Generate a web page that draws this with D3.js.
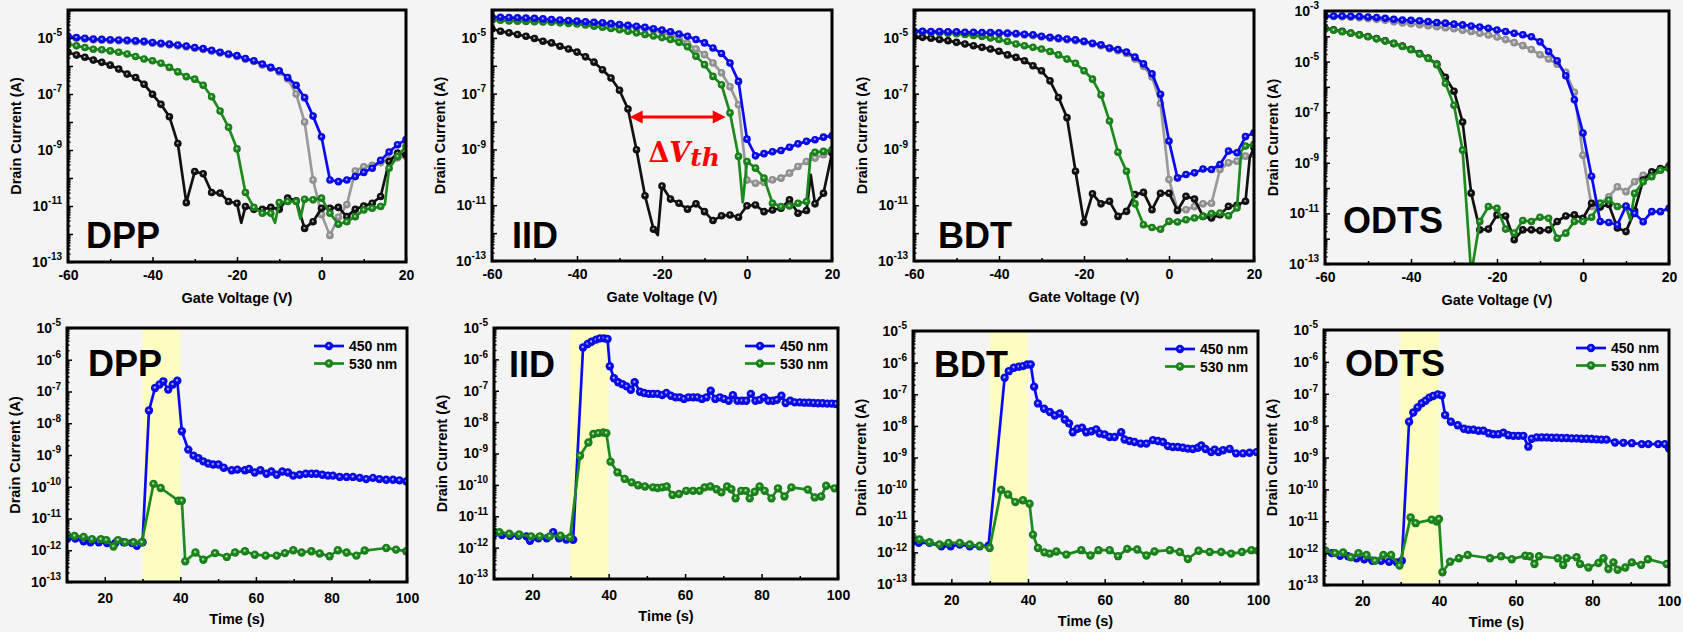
<!DOCTYPE html>
<html>
<head>
<meta charset="utf-8">
<script src="https://cdn.jsdelivr.net/npm/d3@7/dist/d3.min.js"></script>
<style>
  html, body { margin: 0; padding: 0; background: #f4f4f4; }
  svg { display: block; font-family: "Liberation Sans", Arial, sans-serif; font-weight: bold; }
</style>
</head>
<body>
<svg id="fig" width="1683" height="632"></svg>
<script>
// ---------- Transfer curves: log10 of drain current (A) vs gate voltage (V) ----------
const gateVoltage = [-60,-58,-56,-54,-52,-50,-48,-46,-44,-42,-40,-38,-36,-34,-32,-30,-28,-26,-24,-22,
                     -20,-18,-16,-14,-12,-10,-8,-6,-4,-2,0,2,4,6,8,10,12,14,16,18,20];

const dppGray  = [-4.97,-5.01,-5.04,-5.07,-5.08,-5.09,-5.10,-5.11,-5.13,-5.15,-5.19,-5.22,-5.25,-5.28,-5.32,-5.37,-5.41,-5.47,-5.54,-5.60,
                  -5.66,-5.76,-5.84,-5.96,-6.08,-6.21,-6.46,-7.00,-8.00,-10.07,-11.30,-12.05,-11.40,-10.95,-9.75,-9.60,-9.55,-9.45,-9.35,-9.28,-9.22];
const dppBlack = [-5.51,-5.61,-5.69,-5.79,-5.87,-5.97,-6.11,-6.29,-6.41,-6.65,-7.01,-7.37,-7.81,-8.77,-10.88,-9.77,-9.85,-10.52,-10.54,-10.84,
                  -10.90,-11.02,-11.12,-11.12,-11.05,-11.12,-10.72,-10.81,-11.80,-11.56,-11.08,-11.08,-11.05,-11.38,-11.12,-11.00,-10.90,-10.66,-9.41,-9.11,-9.17];
const dppGreen = [-5.22,-5.28,-5.34,-5.40,-5.42,-5.46,-5.51,-5.57,-5.66,-5.75,-5.81,-5.90,-6.05,-6.21,-6.38,-6.47,-6.69,-7.10,-7.61,-8.19,
                  -8.96,-10.52,-11.05,-11.26,-11.26,-10.88,-10.84,-10.84,-10.76,-10.78,-10.72,-11.26,-11.65,-11.56,-11.38,-11.14,-11.08,-11.02,-9.65,-9.23,-8.87];
const dppBlue  = [-4.94,-4.98,-5.01,-5.04,-5.05,-5.06,-5.07,-5.08,-5.10,-5.12,-5.16,-5.19,-5.22,-5.25,-5.29,-5.34,-5.38,-5.44,-5.51,-5.57,
                  -5.63,-5.73,-5.81,-5.93,-6.05,-6.17,-6.41,-6.69,-7.13,-7.79,-8.53,-10.07,-10.13,-10.07,-9.95,-9.80,-9.65,-9.37,-9.07,-8.81,-8.63];
// readings taken between the marked sweep points
const dppBlackExtra = [[-19,-11.60]];
const dppGreenExtra = [[-11,-11.60],[-5,-11.45],[15,-10.95]];

const iidGray  = [-4.30,-4.31,-4.32,-4.33,-4.34,-4.35,-4.37,-4.39,-4.41,-4.43,-4.45,-4.47,-4.49,-4.51,-4.54,-4.57,-4.60,-4.63,-4.67,-4.72,
                  -4.80,-4.90,-5.02,-5.20,-5.40,-5.60,-5.90,-6.25,-6.75,-7.40,-10.10,-10.21,-10.18,-10.09,-10.03,-9.85,-9.61,-9.43,-9.31,-9.19,-9.07];
const iidBlack = [-4.68,-4.76,-4.82,-4.88,-4.94,-5.02,-5.12,-5.18,-5.30,-5.40,-5.51,-5.68,-5.87,-6.14,-6.44,-6.88,-7.55,-9.01,-10.66,-11.86,
                  -10.31,-10.78,-10.93,-11.14,-10.95,-11.23,-11.55,-11.38,-11.35,-11.43,-11.02,-10.99,-11.23,-11.17,-11.11,-10.81,-11.29,-11.19,-10.95,-10.57,-9.13];
const iidGreen = [-4.37,-4.37,-4.39,-4.40,-4.41,-4.42,-4.43,-4.44,-4.46,-4.48,-4.50,-4.54,-4.58,-4.62,-4.66,-4.71,-4.76,-4.82,-4.88,-4.93,
                  -4.99,-5.06,-5.16,-5.32,-5.66,-5.96,-6.38,-6.68,-7.69,-9.25,-9.43,-9.67,-10.03,-10.93,-11.05,-11.03,-10.93,-10.87,-9.10,-9.07,-9.01];
const iidBlue  = [-4.25,-4.26,-4.27,-4.28,-4.29,-4.30,-4.32,-4.34,-4.36,-4.38,-4.40,-4.42,-4.44,-4.46,-4.49,-4.52,-4.55,-4.58,-4.62,-4.67,
                  -4.72,-4.78,-4.86,-4.94,-5.06,-5.18,-5.36,-5.56,-5.90,-6.56,-8.63,-9.23,-9.15,-9.08,-9.04,-8.92,-8.80,-8.71,-8.65,-8.56,-8.51];
const iidBlackExtra = [[-21,-12.07],[15,-9.91]];
const iidGreenExtra = [[-1,-10.90],[15,-9.15]];
// threshold-voltage shift marked between the two sweeps: [from V, to V], at log10 I
const iidShift = [-27.6, -5.0];
const iidShiftLevel = -7.84;

const bdtGray  = [-4.79,-4.79,-4.80,-4.80,-4.81,-4.81,-4.83,-4.83,-4.84,-4.84,-4.85,-4.86,-4.87,-4.90,-4.92,-4.97,-5.01,-5.04,-5.07,-5.10,
                  -5.15,-5.22,-5.28,-5.39,-5.46,-5.56,-5.76,-6.02,-6.40,-7.35,-10.08,-11.16,-11.16,-11.05,-10.95,-10.93,-9.72,-9.48,-9.42,-9.24,-9.18];
const bdtBlack = [-4.94,-4.98,-5.01,-5.06,-5.10,-5.16,-5.22,-5.28,-5.34,-5.40,-5.48,-5.61,-5.70,-5.82,-6.00,-6.18,-6.54,-7.14,-7.86,-9.78,
                  -11.62,-10.59,-10.95,-10.86,-11.40,-11.22,-10.62,-10.54,-11.16,-10.57,-10.57,-11.19,-10.68,-10.78,-11.40,-11.46,-11.34,-11.04,-11.00,-10.86,-8.94];
const bdtGreen = [-4.76,-4.77,-4.80,-4.82,-4.83,-4.85,-4.88,-4.91,-4.95,-5.00,-5.06,-5.13,-5.22,-5.28,-5.34,-5.40,-5.49,-5.61,-5.76,-5.91,
                  -6.18,-6.48,-7.05,-7.98,-9.10,-9.78,-10.95,-11.70,-11.80,-11.86,-11.58,-11.60,-11.52,-11.46,-11.40,-11.30,-11.28,-11.38,-11.10,-8.88,-8.82];
const bdtBlue  = [-4.76,-4.76,-4.77,-4.77,-4.78,-4.78,-4.80,-4.80,-4.81,-4.81,-4.82,-4.83,-4.84,-4.87,-4.89,-4.94,-4.98,-5.01,-5.04,-5.07,
                  -5.12,-5.19,-5.25,-5.36,-5.42,-5.51,-5.69,-5.93,-6.29,-7.02,-8.70,-10.02,-9.90,-9.84,-9.70,-9.72,-9.54,-9.06,-9.12,-8.54,-8.40];
const bdtBlackExtra = [[19,-9.30]];
const bdtGreenExtra = [[17,-9.05]];

const odtsGray  = [-3.22,-3.22,-3.23,-3.25,-3.27,-3.30,-3.33,-3.37,-3.42,-3.47,-3.50,-3.54,-3.58,-3.62,-3.66,-3.70,-3.76,-3.81,-3.88,-3.95,
                   -4.03,-4.13,-4.25,-4.37,-4.52,-4.73,-4.90,-5.10,-5.42,-6.21,-8.70,-10.73,-10.60,-10.34,-9.95,-10.14,-9.75,-9.49,-9.45,-9.29,-9.10];
const odtsBlack = [-3.68,-3.74,-3.80,-3.87,-3.94,-4.01,-4.09,-4.18,-4.28,-4.39,-4.51,-4.68,-4.86,-5.10,-5.62,-6.17,-7.39,-10.20,-11.65,-11.62,
                   -11.06,-11.10,-12.04,-11.65,-11.65,-11.68,-11.65,-11.32,-11.10,-11.06,-11.19,-10.60,-10.75,-10.65,-11.58,-11.72,-10.90,-9.68,-9.36,-9.23,-9.16];
const odtsGreen = [-3.72,-3.76,-3.82,-3.88,-3.95,-4.02,-4.10,-4.19,-4.29,-4.40,-4.53,-4.70,-4.88,-5.12,-5.86,-6.73,-8.50,-13.40,-11.32,-10.73,
                   -10.80,-11.62,-11.78,-11.28,-11.32,-11.15,-11.19,-11.98,-11.78,-11.32,-11.32,-11.15,-10.60,-10.47,-10.73,-10.73,-10.21,-9.75,-9.55,-9.29,-9.23];
const odtsBlue  = [-3.20,-3.20,-3.20,-3.21,-3.22,-3.24,-3.26,-3.29,-3.33,-3.36,-3.37,-3.39,-3.42,-3.46,-3.48,-3.52,-3.55,-3.59,-3.63,-3.68,
                   -3.75,-3.81,-3.88,-3.94,-4.02,-4.22,-4.60,-4.97,-5.56,-6.51,-7.82,-9.53,-11.32,-11.36,-11.45,-10.71,-11.00,-11.33,-10.93,-10.93,-10.80];
const odtsGreenExtra = [[11,-11.26]];

// ---------- Photoresponse: [time (s), log10 drain current (A)] ----------
const illumination = [30, 40];
const legendNames = ["450 nm", "530 nm"];

const dpp450 = [[10,-11.65],[12.2,-11.63],[14.4,-11.72],[16.2,-11.75],[18.4,-11.75],[20.6,-11.77],[22.8,-11.77],[25,-11.75],[27.2,-11.77],[28.5,-11.86],
  [30,-11.75],[31.7,-7.60],[33.3,-6.89],[34.5,-6.78],[35.5,-6.68],[36.8,-6.94],[38,-6.78],[39.2,-6.66],[40.4,-8.25],[42.1,-8.83],[43.5,-9.02],
  [44.8,-9.10],[46.1,-9.20],[47.4,-9.27],[48.7,-9.30],[50.1,-9.30],[51.5,-9.40],[53.6,-9.48],[55.1,-9.46],[57.1,-9.48],[58.2,-9.44],[59.7,-9.55],
  [61.2,-9.48],[62.8,-9.59],[64.1,-9.52],[65.5,-9.62],[67,-9.52],[68.5,-9.55],[69.9,-9.65],[71.6,-9.62],[73.2,-9.59],[74.7,-9.59],[76,-9.59],
  [77.6,-9.62],[79.1,-9.65],[80.4,-9.65],[82.2,-9.69],[84,-9.69],[85.7,-9.69],[87.5,-9.72],[89.2,-9.76],[91,-9.72],[92.7,-9.76],[94.5,-9.78],
  [96.3,-9.78],[98,-9.80],[99.8,-9.83]];
const dpp530 = [[10,-11.51],[12,-11.55],[14.4,-11.58],[16.6,-11.65],[19,-11.65],[20.4,-11.68],[22.3,-11.88],[23.5,-11.68],[25.4,-11.75],[27.6,-11.75],
  [29.8,-11.75],[32.9,-9.91],[34.8,-10.04],[39.5,-10.44],[40.4,-10.44],[41.3,-12.35],[44,-12.07],[46.1,-12.30],[49.2,-12.09],[52.3,-12.21],
  [54.5,-12.07],[57.1,-12.03],[59.7,-12.14],[62.6,-12.17],[65.5,-12.17],[67.7,-12.09],[69.9,-12.00],[72.1,-12.07],[74.7,-12.03],[76.9,-12.10],
  [79.5,-12.19],[81.7,-12.00],[84,-12.07],[86.6,-12.17],[88.8,-12.01],[94.5,-11.93],[97.1,-11.98],[99.8,-12.03]];

const iid450 = [[10,-11.57],[12.1,-11.60],[14.2,-11.62],[16.4,-11.62],[18.5,-11.64],[19.4,-11.78],[21.6,-11.70],[23.8,-11.70],[25.5,-11.51],[27,-11.70],
  [28.9,-11.74],[30.7,-11.75],[33.3,-5.62],[34.5,-5.51],[35.5,-5.44],[36.7,-5.37],[37.7,-5.33],[38.8,-5.33],[39.7,-5.35],[40.3,-6.22],[41.4,-6.60],
  [42.5,-6.73],[43.6,-6.79],[44.7,-6.86],[45.8,-6.97],[46.8,-6.73],[48.2,-7.03],[49.3,-7.07],[50.5,-7.10],[51.6,-7.10],[52.8,-7.10],[54,-7.14],
  [55.1,-7.07],[56.3,-7.16],[57.5,-7.21],[58.6,-7.21],[59.7,-7.26],[60.9,-7.21],[62.1,-7.21],[63.2,-7.21],[64.4,-7.26],[65.6,-7.21],[66.7,-7.00],
  [67.9,-7.26],[69.1,-7.21],[70.2,-7.26],[71.4,-7.32],[72.5,-7.14],[73.7,-7.32],[74.9,-7.32],[76,-7.32],[77.2,-7.10],[78.4,-7.32],[79.5,-7.29],
  [80.6,-7.21],[81.8,-7.32],[83,-7.32],[84,-7.29],[85.2,-7.16],[86.3,-7.39],[87.5,-7.32],[88.7,-7.37],[90,-7.37],[91.2,-7.38],[92.4,-7.38],
  [93.6,-7.39],[94.8,-7.40],[96,-7.40],[97.2,-7.41],[98.4,-7.41],[99.5,-7.42]];
const iid530 = [[10,-11.49],[11.4,-11.51],[14,-11.56],[16.6,-11.58],[19.7,-11.64],[22,-11.64],[24.6,-11.64],[27.4,-11.62],[29.9,-11.67],[32.5,-9.07],
  [34.7,-8.65],[36,-8.38],[37.3,-8.35],[38.6,-8.33],[39.4,-8.35],[40.5,-9.26],[42.3,-9.60],[44.2,-9.81],[46,-9.92],[47.7,-10.01],[49.5,-10.05],
  [51.6,-10.08],[52.8,-10.10],[54,-10.08],[55.2,-10.05],[56.7,-10.32],[58.4,-10.29],[60.3,-10.19],[62.1,-10.19],[63.8,-10.19],[65.1,-10.08],
  [66.6,-10.05],[68.2,-10.14],[69.5,-10.24],[71,-10.05],[72.1,-10.14],[73.2,-10.43],[74.7,-10.19],[75.9,-10.19],[76.9,-10.43],[78.2,-10.22],
  [79.5,-10.05],[80.8,-10.19],[82.6,-10.43],[84.3,-10.11],[86,-10.37],[87.8,-10.08],[92.1,-10.15],[93.9,-10.40],[95.6,-10.37],[96.9,-10.03],[99.1,-10.11]];

const bdt450 = [[10,-11.65],[11.5,-11.70],[14.3,-11.70],[17.4,-11.81],[19.8,-11.81],[22.2,-11.75],[24.8,-11.81],[27.4,-11.81],[29.7,-11.79],[33.9,-6.48],
  [35,-6.27],[36.3,-6.16],[37.6,-6.13],[38.7,-6.11],[39.8,-6.06],[40.7,-6.06],[41.6,-6.76],[42.6,-7.29],[44.2,-7.46],[45.7,-7.56],[47,-7.67],
  [48.3,-7.61],[49.6,-7.80],[50.7,-7.92],[51.7,-8.20],[52.9,-8.09],[54.1,-8.06],[55.2,-8.20],[56.5,-8.17],[57.8,-8.11],[58.7,-8.24],[60,-8.27],
  [61.3,-8.35],[62.6,-8.35],[64.3,-8.20],[65.2,-8.43],[66.5,-8.48],[67.8,-8.51],[69.4,-8.56],[70.9,-8.56],[72.6,-8.45],[73.9,-8.48],[75.2,-8.51],
  [76.5,-8.64],[77.8,-8.67],[79.1,-8.67],[80.4,-8.69],[81.7,-8.72],[83,-8.73],[84.3,-8.69],[85.2,-8.62],[86.3,-8.73],[87.8,-8.83],[88.7,-8.75],
  [89.7,-8.83],[90.9,-8.77],[92.6,-8.73],[94.3,-8.87],[96.1,-8.87],[97.8,-8.85],[99.6,-8.83]];
const bdt530 = [[10,-11.54],[11.7,-11.59],[14.3,-11.68],[16.9,-11.75],[19.3,-11.70],[22.2,-11.70],[24.8,-11.75],[27.4,-11.79],[30,-11.86],[33,-10.03],
  [34.8,-10.17],[36.7,-10.41],[38.7,-10.35],[40.4,-10.46],[41.3,-11.44],[42.6,-11.86],[44.3,-12.00],[45.7,-12.04],[47.4,-11.97],[50,-12.07],
  [53.9,-11.93],[56.3,-12.10],[58.4,-11.93],[61.3,-11.93],[63.5,-12.12],[65.9,-11.89],[68.5,-11.91],[70.9,-12.10],[73,-11.97],[77,-11.93],
  [79.6,-11.99],[81.7,-12.21],[84.5,-11.95],[87.4,-11.99],[90.4,-11.99],[93,-12.04],[95.8,-11.99],[98.3,-11.93],[100,-11.95]];

const odts450 = [[10.3,-11.92],[12,-12.00],[14.2,-12.08],[16.3,-12.10],[18.5,-12.16],[20.5,-12.19],[22.6,-12.24],[24.9,-12.24],[27,-12.27],[29,-12.29],
  [30.3,-12.24],[32.2,-7.88],[33.3,-7.59],[34.4,-7.43],[35.5,-7.30],[36.5,-7.22],[37.5,-7.12],[38.5,-7.07],[39.7,-7.02],[40.7,-7.05],[41.6,-7.67],
  [43.1,-7.88],[44.9,-7.99],[46.5,-8.10],[47.7,-8.13],[49,-8.13],[50.3,-8.16],[51.6,-8.16],[53,-8.24],[54.2,-8.27],[55.5,-8.27],[56.8,-8.22],
  [58.1,-8.30],[59.4,-8.32],[60.7,-8.32],[62,-8.32],[63.3,-8.66],[64.2,-8.41],[65.5,-8.37],[66.8,-8.37],[68.1,-8.37],[69.4,-8.38],[70.7,-8.38],
  [72,-8.39],[73.3,-8.39],[74.6,-8.40],[75.9,-8.40],[77.2,-8.41],[78.5,-8.41],[79.8,-8.42],[81.1,-8.43],[82.4,-8.44],[83.7,-8.44],[85.9,-8.53],
  [88.1,-8.54],[90.3,-8.55],[92.9,-8.58],[94.6,-8.58],[97.2,-8.58],[98.9,-8.58],[100,-8.72]];
const odts530 = [[10.3,-11.92],[12.9,-12.00],[15,-11.98],[17,-12.13],[19,-12.00],[21.1,-12.06],[23.3,-12.24],[25.5,-12.06],[27.5,-12.06],[29.7,-12.39],
  [32.6,-10.88],[33.9,-11.06],[38.1,-10.95],[39.4,-11.01],[40,-10.93],[40.9,-12.60],[42.9,-12.27],[45.2,-12.16],[47.5,-12.06],[53.3,-12.16],
  [56.2,-12.10],[59,-12.19],[62.5,-12.08],[63.7,-12.10],[64.9,-12.34],[66.1,-12.10],[71,-12.16],[72.4,-12.37],[73.3,-12.16],[75.9,-12.13],
  [76.8,-12.34],[79,-12.45],[81.6,-12.31],[82.9,-12.16],[84.2,-12.50],[85.5,-12.29],[86.6,-12.52],[88.6,-12.45],[90.3,-12.29],[92.7,-12.37],
  [94.5,-12.19],[99.4,-12.34]];

// ---------- Styling ----------
const palette = { gray: "#9a9a9a", black: "#111111", green: "#1c8a1c", blue: "#0a0af5" };
const bandColor = "#fdfdc2";

const svg = d3.select("#fig");
const defs = svg.append("defs");

// shaded "ball" markers: small soft highlight on a solid coloured body
Object.entries(palette).forEach(([key, c]) => {
  const g = defs.append("radialGradient").attr("id", "ball-" + key)
    .attr("cx", "50%").attr("cy", "50%").attr("r", "50%").attr("fx", "45%").attr("fy", "42%");
  g.append("stop").attr("offset", "0%").attr("stop-color", d3.interpolateRgb(c, "#ffffff")(0.85));
  g.append("stop").attr("offset", "18%").attr("stop-color", d3.interpolateRgb(c, "#ffffff")(0.5));
  g.append("stop").attr("offset", "40%").attr("stop-color", c);
  g.append("stop").attr("offset", "100%").attr("stop-color", d3.color(c).darker(0.4).formatHex());
});

// merge marked sweep points with in-between readings
function sweep(values, extra = []) {
  const marked = gateVoltage.map((v, i) => [v, values[i]]);
  const all = marked.concat(extra).sort((a, b) => a[0] - b[0]);
  return { marked, all };
}

const transferPanels = [
  { id: "dpp",  name: "DPP",  box: [68, 10, 406, 262],   topExp: -4, namePos: [86, 248],
    series: [["gray", sweep(dppGray)], ["black", sweep(dppBlack, dppBlackExtra)], ["green", sweep(dppGreen, dppGreenExtra)], ["blue", sweep(dppBlue)]] },
  { id: "iid",  name: "IID",  box: [492, 10, 832, 261],  topExp: -4, namePos: [512, 248],
    series: [["gray", sweep(iidGray)], ["black", sweep(iidBlack, iidBlackExtra)], ["green", sweep(iidGreen, iidGreenExtra)], ["blue", sweep(iidBlue)]] },
  { id: "bdt",  name: "BDT",  box: [914, 10, 1254, 261], topExp: -4, namePos: [938, 248],
    series: [["gray", sweep(bdtGray)], ["black", sweep(bdtBlack, bdtBlackExtra)], ["green", sweep(bdtGreen, bdtGreenExtra)], ["blue", sweep(bdtBlue)]] },
  { id: "odts", name: "ODTS", box: [1325, 11, 1669, 264], topExp: -3, namePos: [1343, 233],
    series: [["gray", sweep(odtsGray)], ["black", sweep(odtsBlack)], ["green", sweep(odtsGreen, odtsGreenExtra)], ["blue", sweep(odtsBlue)]] }
];

const transientPanels = [
  { id: "dppT",  name: "DPP",  box: [67, 328, 407, 582],   namePos: [88, 376],   series: [["blue", dpp450], ["green", dpp530]] },
  { id: "iidT",  name: "IID",  box: [494, 328, 838, 579],  namePos: [509, 377],  series: [["blue", iid450], ["green", iid530]] },
  { id: "bdtT",  name: "BDT",  box: [913, 331, 1258, 584], namePos: [934, 377],  series: [["blue", bdt450], ["green", bdt530]] },
  { id: "odtsT", name: "ODTS", box: [1324, 330, 1669, 585], namePos: [1345, 376], series: [["blue", odts450], ["green", odts530]] }
];

const none = () => "";
const sansBold = '"Liberation Sans", Arial, sans-serif';

function drawAxes(g, box, x, y, opt) {
  const [x0, y0, x1, y1] = box;
  // y axis: decade ticks, minor ticks, labels 10^n
  const decades = d3.range(-13, opt.topExp + 1).map(e => Math.pow(10, e));
  const minor = [];
  for (let e = -13; e < opt.topExp; e++) for (let m = 2; m <= 9; m++) minor.push(m * Math.pow(10, e));
  const gy = g.append("g").attr("transform", `translate(${x0},0)`);
  gy.append("g").call(d3.axisLeft(y).tickValues(minor).tickSize(-2.5).tickFormat(none));
  gy.append("g").call(d3.axisLeft(y).tickValues(decades).tickSize(-5).tickFormat(none));
  const gl = gy.append("g").call(d3.axisLeft(y).tickValues(opt.yLabels.map(e => Math.pow(10, e))).tickSize(0).tickPadding(6).tickFormat(none));
  gl.selectAll(".tick text").each(function (d) {
    const t = d3.select(this).style("font-size", "14px").style("font-weight", "bold").style("font-family", sansBold);
    t.append("tspan").text("10");
    t.append("tspan").attr("dy", -6.5).style("font-size", "10px").text(String(Math.round(Math.log10(d))));
  });
  // x axis
  const gx = g.append("g").attr("transform", `translate(0,${y1})`);
  gx.append("g").call(d3.axisBottom(x).tickValues(opt.xMinor).tickSize(-3).tickFormat(none));
  const gxl = gx.append("g").call(d3.axisBottom(x).tickValues(opt.xLabels).tickSize(-5).tickPadding(opt.xPad).tickFormat(d => String(d)));
  gxl.selectAll(".tick text").style("font-size", "14px").style("font-weight", "bold").style("font-family", sansBold);
  g.selectAll(".domain").remove();
  g.selectAll(".tick line").attr("stroke-width", 1.5);
  // axis titles
  g.append("text").attr("x", (x0 + x1) / 2).attr("y", y1 + opt.titleGap).attr("text-anchor", "middle")
    .style("font-size", "14.5px").text(opt.xTitle);
  g.append("text").attr("transform", `translate(${x0 - 47},${(y0 + y1) / 2}) rotate(-90)`).attr("text-anchor", "middle")
    .style("font-size", "14.5px").text("Drain Current (A)");
}

function drawSeries(plot, x, y, color, all, marked, r) {
  plot.append("path").datum(all)
    .attr("fill", "none").attr("stroke", palette[color]).attr("stroke-width", 2.7)
    .attr("stroke-linejoin", "round")
    .attr("d", d3.line().x(d => x(d[0])).y(d => y(Math.pow(10, d[1]))));
  plot.append("g").selectAll("circle").data(marked).join("circle")
    .attr("cx", d => x(d[0])).attr("cy", d => y(Math.pow(10, d[1]))).attr("r", r)
    .attr("fill", `url(#ball-${color})`);
}

function frameAndName(g, p) {
  const [x0, y0, x1, y1] = p.box;
  g.append("rect").attr("x", x0).attr("y", y0).attr("width", x1 - x0).attr("height", y1 - y0)
    .attr("fill", "none").attr("stroke", "#000").attr("stroke-width", 3);
  g.append("text").attr("x", p.namePos[0]).attr("y", p.namePos[1]).style("font-size", "36px").text(p.name);
}

function clipFor(p) {
  const [x0, y0, x1, y1] = p.box;
  defs.append("clipPath").attr("id", "clip-" + p.id).append("rect")
    .attr("x", x0).attr("y", y0).attr("width", x1 - x0).attr("height", y1 - y0);
  return `url(#clip-${p.id})`;
}

// ---------- Transfer panels ----------
transferPanels.forEach(p => {
  const [x0, y0, x1, y1] = p.box;
  const x = d3.scaleLinear([-60, 20], [x0, x1]);
  const y = d3.scaleLog([1e-13, Math.pow(10, p.topExp)], [y1, y0]);
  const g = svg.append("g");
  const plot = g.append("g").attr("clip-path", clipFor(p));
  p.series.forEach(([color, s]) => drawSeries(plot, x, y, color, s.all, s.marked, 3.8));

  if (p.id === "iid") {
    // ΔVth annotation
    const ay = y(Math.pow(10, iidShiftLevel));
    const ax0 = x(iidShift[0]), ax1 = x(iidShift[1]);
    const head = 13, half = 6.5;
    g.append("line").attr("x1", ax0 + head - 1).attr("x2", ax1 - head + 1).attr("y1", ay).attr("y2", ay)
      .attr("stroke", "#ff0000").attr("stroke-width", 3);
    g.append("path").attr("fill", "#ff0000")
      .attr("d", `M${ax0},${ay}L${ax0 + head},${ay - half}L${ax0 + head},${ay + half}Z M${ax1},${ay}L${ax1 - head},${ay - half}L${ax1 - head},${ay + half}Z`);
    const t = g.append("text").attr("x", x(-23.2)).attr("y", y(Math.pow(10, -9.45)))
      .attr("fill", "#ff0000").style("font-family", '"DejaVu Serif", "Liberation Serif", serif').style("font-size", "27px");
    t.append("tspan").text("Δ");
    t.append("tspan").style("font-style", "italic").text("V");
    t.append("tspan").attr("dy", 4).style("font-style", "italic").style("font-size", "25px").text("th");
  }

  drawAxes(g, p.box, x, y, {
    topExp: p.topExp,
    yLabels: p.topExp === -3 ? [-13, -11, -9, -7, -5, -3] : [-13, -11, -9, -7, -5],
    xLabels: [-60, -40, -20, 0, 20], xMinor: [-50, -30, -10, 10], xPad: 8,
    titleGap: 41, xTitle: "Gate Voltage (V)"
  });
  frameAndName(g, p);
});

// ---------- Photoresponse panels ----------
transientPanels.forEach(p => {
  const [x0, y0, x1, y1] = p.box;
  const x = d3.scaleLinear([10, 100], [x0, x1]);
  const y = d3.scaleLog([1e-13, 1e-5], [y1, y0]);
  const g = svg.append("g");
  const plot = g.append("g").attr("clip-path", clipFor(p));
  plot.append("rect").attr("x", x(illumination[0])).attr("y", y0)
    .attr("width", x(illumination[1]) - x(illumination[0])).attr("height", y1 - y0).attr("fill", bandColor);
  p.series.forEach(([color, pts]) => drawSeries(plot, x, y, color, pts, pts, 4.2));

  drawAxes(g, p.box, x, y, {
    topExp: -5,
    yLabels: [-13, -12, -11, -10, -9, -8, -7, -6, -5],
    xLabels: [20, 40, 60, 80, 100], xMinor: [10, 30, 50, 70, 90], xPad: 11,
    titleGap: 42, xTitle: "Time (s)"
  });

  // legend
  const lg = g.append("g");
  p.series.forEach(([color], i) => {
    const ly = y0 + 18 + i * 17.5;
    lg.append("line").attr("x1", x1 - 93).attr("x2", x1 - 63).attr("y1", ly).attr("y2", ly)
      .attr("stroke", palette[color]).attr("stroke-width", 2.7);
    lg.append("circle").attr("cx", x1 - 78).attr("cy", ly).attr("r", 4.2).attr("fill", `url(#ball-${color})`);
    lg.append("text").attr("x", x1 - 58).attr("y", ly + 5).style("font-size", "14px").text(legendNames[i]);
  });
  frameAndName(g, p);
});
</script>
</body>
</html>
